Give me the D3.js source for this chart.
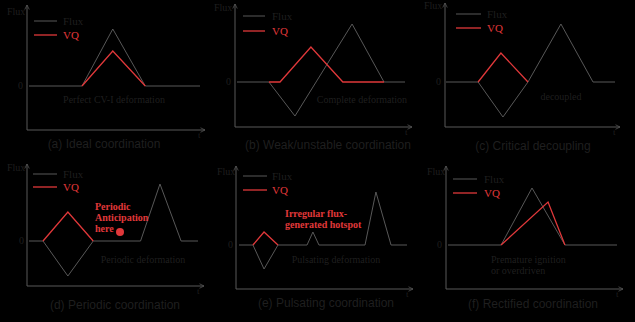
<!DOCTYPE html>
<html>
<head>
<meta charset="utf-8">
<script src="https://cdn.jsdelivr.net/npm/d3@7"></script>
<style>
  body { margin: 0; background: #000; }
  svg { display: block; }
</style>
</head>
<body>
<script>
// time (0-100 along the baseline) and flux level for each panel
var fluxA = [[0,0],[31,0],[49,5.7],[68,0],[100,0]];
var vqA   = [[31,0],[49,3.5],[68,0]];
var fluxB = [[0,0],[19,0],[34.5,-3.4],[68.5,5.8],[87.5,0],[100,0]];
var vqB   = [[19,0],[25.6,0],[44,3.5],[63,0],[87.5,0]];
var fluxC = [[0,0],[19,0],[33.7,-3.5],[48.5,0],[68,5.8],[87,0],[100,0]];
var vqC   = [[19,0],[32.5,2.9],[48.5,0]];
var fluxD = [[0,0],[8.3,0],[23,-3.5],[38,0],[66,0],[77.5,5.7],[90,0],[100,0]];
var vqD   = [[8.3,0],[23,2.9],[38,0]];
var fluxE = [[0,0],[8.3,0],[14.9,-2.4],[23.2,0],[40.5,0],[44,1.3],[47.6,0],[75,0],[81.5,5.3],[90.5,0],[100,0]];
var vqE   = [[8.3,0],[14.9,1.3],[23.2,0]];
var fluxF = [[0,0],[31.4,0],[49.7,5.7],[69.2,0],[100,0]];
var vqF   = [[31.4,0],[59.2,4.3],[69.2,0]];

var captions = ["(a) Ideal coordination", "(b) Weak/unstable coordination", "(c) Critical decoupling",
                "(d) Periodic coordination", "(e) Pulsating coordination", "(f) Rectified coordination"];
var notes = [["Perfect CV-I deformation"], ["Complete deformation"], ["decoupled"],
             ["Periodic deformation"], ["Pulsating deformation"], ["Premature ignition", "or overdriven"]];
var redNotes = [[], [], [], ["Periodic", "Anticipation", "here"], ["Irregular flux-", "generated hotspot"], []];

var fluxSeries = [fluxA, fluxB, fluxC, fluxD, fluxE, fluxF];
var vqSeries = [vqA, vqB, vqC, vqD, vqE, vqF];

var w = 635, h = 322;
var grey = "#585858", red = "#e0383a", ink = "#1f1f1f";

// panel geometry
var panels = [
  {yAx:27,  xAx:130, top:5,   base:86,  x0:29,  x1:200, xEnd:205, lg:[21,35],   lx:[34,57],   lt:63,  fl:[7,15],    zx:18,  cap:[104,148], note:[114,103], red:null},
  {yAx:235, xAx:127, top:4,   base:82,  x0:237, x1:405, xEnd:412, lg:[16,31],   lx:[243,265], lt:272, fl:[214,11],  zx:226, cap:[328,149], note:[362,103], red:null},
  {yAx:445, xAx:127, top:3,   base:82,  x0:446, x1:615, xEnd:620, lg:[14,28],   lx:[456,481], lt:487, fl:[424,9],   zx:436, cap:[533,150], note:[561,100], red:null},
  {yAx:27,  xAx:286, top:164, base:241, x0:29,  x1:198, xEnd:204, lg:[174,187], lx:[33,57],   lt:63,  fl:[7,171],   zx:19,  cap:[115,309], note:[143,263], red:[95,210]},
  {yAx:236, xAx:289, top:166, base:245, x0:239, x1:407, xEnd:413, lg:[176,190], lx:[243,267], lt:272, fl:[217,175], zx:228, cap:[326,307], note:[336,263], red:[285,217]},
  {yAx:446, xAx:289, top:166, base:245, x0:448, x1:617, xEnd:623, lg:[179,193], lx:[453,477], lt:484, fl:[427,175], zx:437, cap:[533,308], note:[491,263], red:null}
];

var svg = d3.select("body").append("svg")
  .attr("width", w).attr("height", h)
  .style("background", "#000");

svg.append("defs").append("marker")
  .attr("id", "arr")
  .attr("viewBox", "0 0 8 8")
  .attr("refX", 7).attr("refY", 4)
  .attr("markerWidth", 6).attr("markerHeight", 6)
  .attr("orient", "auto")
  .append("path")
  .attr("d", "M1,1 L7,4 L1,7")
  .attr("fill", "none")
  .attr("stroke", grey)
  .attr("stroke-width", 1);

panels.forEach(function(p, i) {
  var g = svg.append("g");
  var x = d3.scaleLinear().domain([0, 100]).range([p.x0, p.x1]);
  var y = d3.scaleLinear().domain([0, 10]).range([p.base, p.base - 100]);
  var line = d3.line().x(function(d) { return x(d[0]); }).y(function(d) { return y(d[1]); });

  // axes
  g.append("line").attr("x1", p.yAx).attr("y1", p.xAx).attr("x2", p.yAx).attr("y2", p.top)
    .attr("stroke", grey).attr("stroke-width", 1).attr("marker-end", "url(#arr)");
  g.append("line").attr("x1", p.yAx).attr("y1", p.xAx).attr("x2", p.xEnd).attr("y2", p.xAx)
    .attr("stroke", grey).attr("stroke-width", 1).attr("marker-end", "url(#arr)");

  g.append("text").attr("x", p.fl[0]).attr("y", p.fl[1]).text("Flux")
    .attr("font-family", "Liberation Serif").attr("font-size", 10).attr("fill", ink);
  g.append("text").attr("x", p.zx).attr("y", p.base + 3).text("0")
    .attr("font-family", "Liberation Serif").attr("font-size", 10).attr("fill", ink);
  g.append("text").attr("x", p.xEnd - 7).attr("y", p.xAx + 8).text("t")
    .attr("font-family", "Liberation Serif").attr("font-size", 9).attr("fill", ink);

  // series
  g.append("path").datum(fluxSeries[i]).attr("d", line)
    .attr("fill", "none").attr("stroke", grey).attr("stroke-width", 1);
  g.append("path").datum(vqSeries[i]).attr("d", line)
    .attr("fill", "none").attr("stroke", red).attr("stroke-width", 1.3);

  // legend
  g.append("line").attr("x1", p.lx[0]).attr("x2", p.lx[1]).attr("y1", p.lg[0]).attr("y2", p.lg[0])
    .attr("stroke", grey).attr("stroke-width", 1);
  g.append("text").attr("x", p.lt).attr("y", p.lg[0] + 4).text("Flux")
    .attr("font-family", "Liberation Serif").attr("font-size", 11).attr("fill", ink);
  g.append("line").attr("x1", p.lx[0]).attr("x2", p.lx[1]).attr("y1", p.lg[1]).attr("y2", p.lg[1])
    .attr("stroke", red).attr("stroke-width", 1.3);
  g.append("text").attr("x", p.lt).attr("y", p.lg[1] + 4).text("VQ")
    .attr("font-family", "Liberation Serif").attr("font-size", 11).attr("fill", red);

  // inner note
  notes[i].forEach(function(t, k) {
    g.append("text").attr("x", p.note[0]).attr("y", p.note[1] + k * 11).text(t)
      .attr("text-anchor", i == 5 ? "start" : "middle")
      .attr("font-family", "Liberation Serif").attr("font-size", 10).attr("fill", ink);
  });

  // red annotation
  redNotes[i].forEach(function(t, k) {
    g.append("text").attr("x", p.red[0]).attr("y", p.red[1] + k * 11).text(t)
      .attr("font-family", "Liberation Serif").attr("font-weight", "bold")
      .attr("font-size", 10).attr("fill", red);
  });

  // caption
  g.append("text").attr("x", p.cap[0]).attr("y", p.cap[1]).text(captions[i])
    .attr("text-anchor", "middle")
    .attr("font-family", "Liberation Sans").attr("font-size", 12).attr("fill", ink);
});

// hotspot marker in panel (d)
svg.append("circle").attr("cx", 120).attr("cy", 232).attr("r", 4).attr("fill", red);
</script>
</body>
</html>
